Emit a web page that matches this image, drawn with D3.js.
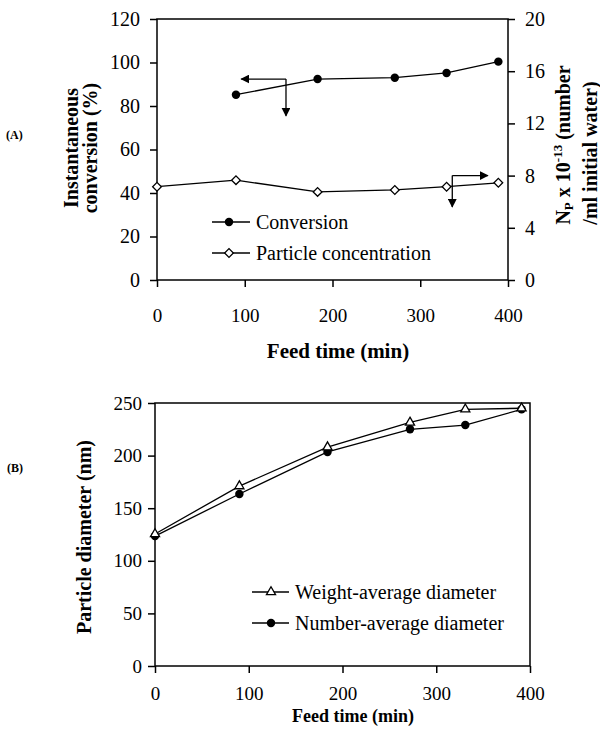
<!DOCTYPE html>
<html>
<head>
<meta charset="utf-8">
<script src="https://cdn.jsdelivr.net/npm/d3@7"></script>
<style>
  body { margin: 0; background: #fff; }
  svg text { font-family: "Liberation Serif", "Times New Roman", Times, Tinos, "DejaVu Serif", serif; }
</style>
</head>
<body>
<div id="chart"></div>
<script>
// Panel A: conversion and particle concentration vs feed time
const convTime = [90, 183, 271, 330, 389];
const conversion = [85.2, 92.4, 93, 95.2, 100.4];
const npTime = [0, 90, 183, 271, 330, 389];
const particleConc = [7.15, 7.65, 6.75, 6.9, 7.15, 7.45];

// Panel B: particle diameters vs feed time
const diamTime = [0, 90, 184, 272, 331, 391];
const weightDiam = [125.5, 171, 208, 231.5, 244, 245];
const numberDiam = [123.5, 163.5, 203.5, 225, 229, 244];

const xTicks = [0, 100, 200, 300, 400];
const convTicks = [0, 20, 40, 60, 80, 100, 120];
const npTicks = [0, 4, 8, 12, 16, 20];
const diamTicks = [0, 50, 100, 150, 200, 250];

const width = 600;
const height = 732;
const serif = "Liberation Serif, Times New Roman, Times, Tinos, DejaVu Serif, serif";

const svg = d3.select("#chart")
  .append("svg")
  .attr("width", width)
  .attr("height", height)
  .attr("viewBox", [0, 0, width, height])
  .attr("font-family", serif);

// arrowhead
svg.append("defs").append("marker")
  .attr("id", "arrow")
  .attr("viewBox", "0 0 10 10")
  .attr("refX", 9).attr("refY", 5)
  .attr("markerWidth", 9).attr("markerHeight", 9)
  .attr("markerUnits", "userSpaceOnUse")
  .attr("orient", "auto")
  .append("path")
  .attr("d", "M0,0L10,5L0,10Z")
  .attr("fill", "#000");

const circleSym = d3.symbol().type(d3.symbolCircle).size(56);
const diamondSym = d3.symbol().type(d3.symbolSquare).size(38);
const triSym = d3.symbol().type(d3.symbolTriangle).size(36);

function styleAxis(g) {
  g.attr("font-family", serif);
  g.select(".domain").remove();
  g.selectAll(".tick line").attr("stroke", "#000").attr("stroke-width", 1.5);
  g.selectAll(".tick text").attr("fill", "#000");
}

// ---------- Panel A ----------
const xA = d3.scaleLinear().domain([0, 400]).range([157, 508]);
const yA = d3.scaleLinear().domain([0, 120]).range([280, 19]);
const yA2 = d3.scaleLinear().domain([0, 20]).range([280, 19]);

const gA = svg.append("g");

gA.append("g")
  .attr("transform", `translate(0,${yA(0)})`)
  .call(d3.axisBottom(xA).tickValues(xTicks).tickSize(7).tickPadding(22))
  .call(styleAxis)
  .call(g => g.selectAll(".tick text").attr("font-size", 19));

gA.append("g")
  .attr("transform", `translate(${xA(0)},0)`)
  .call(d3.axisLeft(yA).tickValues(convTicks).tickSize(7).tickPadding(10))
  .call(styleAxis)
  .call(g => g.selectAll(".tick text").attr("font-size", 20));

gA.append("g")
  .attr("transform", `translate(${xA(400)},0)`)
  .call(d3.axisRight(yA2).tickValues(npTicks).tickSize(7).tickPadding(10))
  .call(styleAxis)
  .call(g => g.selectAll(".tick text").attr("font-size", 20));

gA.append("rect")
  .attr("x", xA(0)).attr("y", yA(120))
  .attr("width", xA(400) - xA(0)).attr("height", yA(0) - yA(120))
  .attr("fill", "none").attr("stroke", "#000").attr("stroke-width", 1.5);

const convPts = convTime.map((t, i) => [t, conversion[i]]);
const npPts = npTime.map((t, i) => [t, particleConc[i]]);

gA.append("path")
  .attr("fill", "none").attr("stroke", "#000").attr("stroke-width", 1.3)
  .attr("d", d3.line().x(d => xA(d[0])).y(d => yA(d[1]))(convPts));
gA.append("path")
  .attr("fill", "none").attr("stroke", "#000").attr("stroke-width", 1.3)
  .attr("d", d3.line().x(d => xA(d[0])).y(d => yA2(d[1]))(npPts));

gA.selectAll(".conv").data(convPts).join("path")
  .attr("transform", d => `translate(${xA(d[0])},${yA(d[1])})`)
  .attr("d", circleSym).attr("fill", "#000");
gA.selectAll(".np").data(npPts).join("path")
  .attr("transform", d => `translate(${xA(d[0])},${yA2(d[1])}) rotate(45)`)
  .attr("d", diamondSym).attr("fill", "#fff").attr("stroke", "#000").attr("stroke-width", 1.3);

// axis pointer arrows
function pointer(g, x0, y0, x1, y1) {
  g.append("line")
    .attr("x1", x0).attr("y1", y0).attr("x2", x1).attr("y2", y1)
    .attr("stroke", "#000").attr("stroke-width", 1.3)
    .attr("marker-end", "url(#arrow)");
}
pointer(gA, xA(147), yA(92.4), xA(96), yA(92.4));
pointer(gA, xA(147), yA(92.4), xA(147), yA(75.5));
pointer(gA, xA(336.5), yA2(8), xA(377), yA2(8));
pointer(gA, xA(336.5), yA2(8), xA(336.5), yA2(5.6));

// legend A
const legA = [
  { label: "Conversion", y: 222, sym: "circle" },
  { label: "Particle concentration", y: 253, sym: "diamond" }
];
legA.forEach(l => {
  gA.append("line").attr("x1", 212).attr("x2", 250).attr("y1", l.y).attr("y2", l.y)
    .attr("stroke", "#000").attr("stroke-width", 1.3);
  const m = gA.append("path").attr("transform", `translate(229,${l.y})` + (l.sym === "diamond" ? " rotate(45)" : ""));
  if (l.sym === "circle") m.attr("d", circleSym).attr("fill", "#000");
  else m.attr("d", diamondSym).attr("fill", "#fff").attr("stroke", "#000").attr("stroke-width", 1.3);
  gA.append("text").attr("x", 256).attr("y", l.y + 7).attr("font-size", 20).text(l.label);
});

// titles A
gA.append("text")
  .attr("transform", "translate(78,148) rotate(-90)")
  .attr("text-anchor", "middle").attr("font-weight", "bold").attr("font-size", 20)
  .text("Instantaneous");
gA.append("text")
  .attr("transform", "translate(97,148) rotate(-90)")
  .attr("text-anchor", "middle").attr("font-weight", "bold").attr("font-size", 20)
  .text("conversion (%)");

const npTitle = gA.append("text")
  .attr("transform", "translate(570,145) rotate(-90)")
  .attr("text-anchor", "middle").attr("font-weight", "bold").attr("font-size", 20);
npTitle.append("tspan").text("N");
npTitle.append("tspan").attr("font-size", 13).attr("dy", 3).text("P");
npTitle.append("tspan").attr("dy", -3).text(" x 10");
npTitle.append("tspan").attr("font-size", 13).attr("dy", -8).text("-13");
npTitle.append("tspan").attr("dy", 8).text(" (number");
gA.append("text")
  .attr("transform", "translate(597,153) rotate(-90)")
  .attr("text-anchor", "middle").attr("font-weight", "bold").attr("font-size", 20)
  .text("/ml initial water)");

gA.append("text")
  .attr("x", 338).attr("y", 358)
  .attr("text-anchor", "middle").attr("font-weight", "bold").attr("font-size", 21)
  .text("Feed time (min)");

svg.append("text").attr("x", 6).attr("y", 139)
  .attr("font-weight", "bold").attr("font-size", 12).text("(A)");

// ---------- Panel B ----------
const xB = d3.scaleLinear().domain([0, 400]).range([155, 530]);
const yB = d3.scaleLinear().domain([0, 250]).range([666, 403]);

const gB = svg.append("g");

gB.append("g")
  .attr("transform", `translate(0,${yB(0)})`)
  .call(d3.axisBottom(xB).tickValues(xTicks).tickSize(7).tickPadding(14))
  .call(styleAxis)
  .call(g => g.selectAll(".tick text").attr("font-size", 19));

gB.append("g")
  .attr("transform", `translate(${xB(0)},0)`)
  .call(d3.axisLeft(yB).tickValues(diamTicks).tickSize(7).tickPadding(6))
  .call(styleAxis)
  .call(g => g.selectAll(".tick text").attr("font-size", 19));

gB.append("rect")
  .attr("x", xB(0)).attr("y", yB(250))
  .attr("width", xB(400) - xB(0)).attr("height", yB(0) - yB(250))
  .attr("fill", "none").attr("stroke", "#000").attr("stroke-width", 1.5);

const wPts = diamTime.map((t, i) => [t, weightDiam[i]]);
const nPts = diamTime.map((t, i) => [t, numberDiam[i]]);
const lineB = d3.line().x(d => xB(d[0])).y(d => yB(d[1]));

gB.append("path").attr("fill", "none").attr("stroke", "#000").attr("stroke-width", 1.3).attr("d", lineB(wPts));
gB.append("path").attr("fill", "none").attr("stroke", "#000").attr("stroke-width", 1.3).attr("d", lineB(nPts));

gB.selectAll(".num").data(nPts).join("path")
  .attr("transform", d => `translate(${xB(d[0])},${yB(d[1])})`)
  .attr("d", circleSym).attr("fill", "#000");
gB.selectAll(".wt").data(wPts).join("path")
  .attr("transform", d => `translate(${xB(d[0])},${yB(d[1])})`)
  .attr("d", triSym).attr("fill", "#fff").attr("stroke", "#000").attr("stroke-width", 1.3);

// legend B
const legB = [
  { label: "Weight-average diameter", y: 592, sym: "tri" },
  { label: "Number-average diameter", y: 623, sym: "circle" }
];
legB.forEach(l => {
  gB.append("line").attr("x1", 252).attr("x2", 289).attr("y1", l.y).attr("y2", l.y)
    .attr("stroke", "#000").attr("stroke-width", 1.3);
  const m = gB.append("path").attr("transform", `translate(271,${l.y})`);
  if (l.sym === "circle") m.attr("d", circleSym).attr("fill", "#000");
  else m.attr("d", triSym).attr("fill", "#fff").attr("stroke", "#000").attr("stroke-width", 1.3);
  gB.append("text").attr("x", 295).attr("y", l.y + 7).attr("font-size", 20).text(l.label);
});

gB.append("text")
  .attr("transform", "translate(91,537) rotate(-90)")
  .attr("text-anchor", "middle").attr("font-weight", "bold").attr("font-size", 20)
  .text("Particle diameter (nm)");

gB.append("text")
  .attr("x", 353).attr("y", 722)
  .attr("text-anchor", "middle").attr("font-weight", "bold").attr("font-size", 18)
  .text("Feed time (min)");

svg.append("text").attr("x", 7).attr("y", 472)
  .attr("font-weight", "bold").attr("font-size", 12).text("(B)");
</script>
</body>
</html>
